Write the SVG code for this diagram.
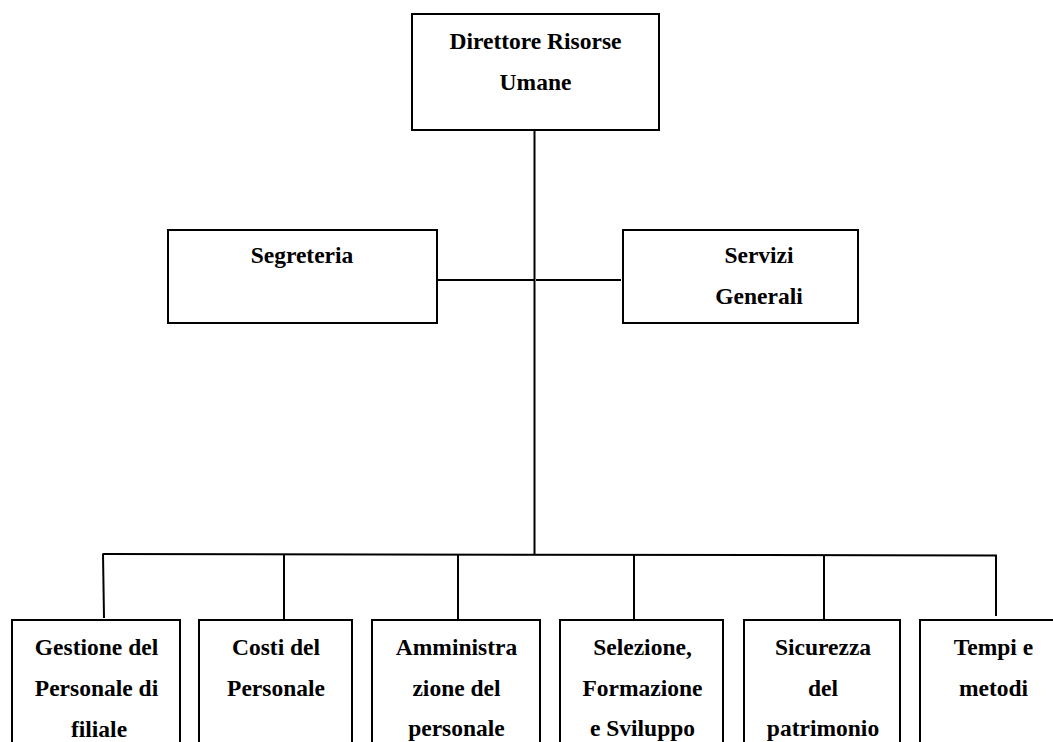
<svg xmlns="http://www.w3.org/2000/svg" width="1053" height="742" viewBox="0 0 1053 742">
  <style>
    .box { fill: #ffffff; stroke: #000000; stroke-width: 2; }
    .wire { fill: none; stroke: #000000; stroke-width: 2; }
    .lbl { font-family: "Liberation Serif", "Times New Roman", serif; font-weight: bold; font-size: 23.5px; fill: #000000; text-anchor: middle; }
  </style>
  <rect width="1053" height="742" fill="#ffffff"/>

  <!-- connectors -->
  <g id="connectors">
    <line class="wire" x1="534.5" y1="130" x2="534.5" y2="555"/>
    <line class="wire" x1="437" y1="280" x2="534.5" y2="280"/>
    <line class="wire" x1="536" y1="280" x2="621" y2="280"/>
    <line class="wire" x1="102.5" y1="554" x2="997" y2="555.5"/>
    <line class="wire" x1="103" y1="554" x2="104" y2="618"/>
    <line class="wire" x1="284" y1="554" x2="284" y2="619"/>
    <line class="wire" x1="458" y1="555" x2="458" y2="619"/>
    <line class="wire" x1="634" y1="555" x2="634" y2="619"/>
    <line class="wire" x1="824" y1="555" x2="824" y2="619"/>
    <line class="wire" x1="996" y1="555.5" x2="996" y2="616"/>
  </g>

  <g id="direttore">
    <rect class="box" x="412" y="14" width="247" height="116"/>
    <text class="lbl" x="535.5" y="49">Direttore Risorse</text>
    <text class="lbl" x="535.5" y="90">Umane</text>
  </g>

  <g id="segreteria">
    <rect class="box" x="168" y="230" width="269" height="93"/>
    <text class="lbl" x="302" y="263">Segreteria</text>
  </g>

  <g id="servizi-generali">
    <rect class="box" x="623" y="230" width="235" height="93"/>
    <text class="lbl" x="759" y="263">Servizi</text>
    <text class="lbl" x="759" y="304">Generali</text>
  </g>

  <g id="gestione-personale">
    <rect class="box" x="12" y="620" width="168" height="140"/>
    <text class="lbl" x="96.5" y="655">Gestione del</text>
    <text class="lbl" x="96.5" y="696">Personale di</text>
    <text class="lbl" x="99" y="737">filiale</text>
  </g>

  <g id="costi-personale">
    <rect class="box" x="199" y="620" width="153" height="140"/>
    <text class="lbl" x="276" y="655">Costi del</text>
    <text class="lbl" x="276" y="696">Personale</text>
  </g>

  <g id="amministrazione">
    <rect class="box" x="372" y="620" width="168" height="140"/>
    <text class="lbl" x="456.5" y="655">Amministra</text>
    <text class="lbl" x="456.5" y="696">zione del</text>
    <text class="lbl" x="456.5" y="736">personale</text>
  </g>

  <g id="selezione">
    <rect class="box" x="560" y="620" width="163" height="140"/>
    <text class="lbl" x="642.5" y="655">Selezione,</text>
    <text class="lbl" x="642.5" y="696">Formazione</text>
    <text class="lbl" x="642.5" y="736">e Sviluppo</text>
  </g>

  <g id="sicurezza">
    <rect class="box" x="744" y="620" width="156" height="140"/>
    <text class="lbl" x="823" y="655">Sicurezza</text>
    <text class="lbl" x="823" y="696">del</text>
    <text class="lbl" x="823" y="736">patrimonio</text>
  </g>

  <g id="tempi-metodi">
    <rect class="box" x="920" y="620" width="150" height="140"/>
    <text class="lbl" x="993.5" y="655">Tempi e</text>
    <text class="lbl" x="993.5" y="696">metodi</text>
  </g>
</svg>
